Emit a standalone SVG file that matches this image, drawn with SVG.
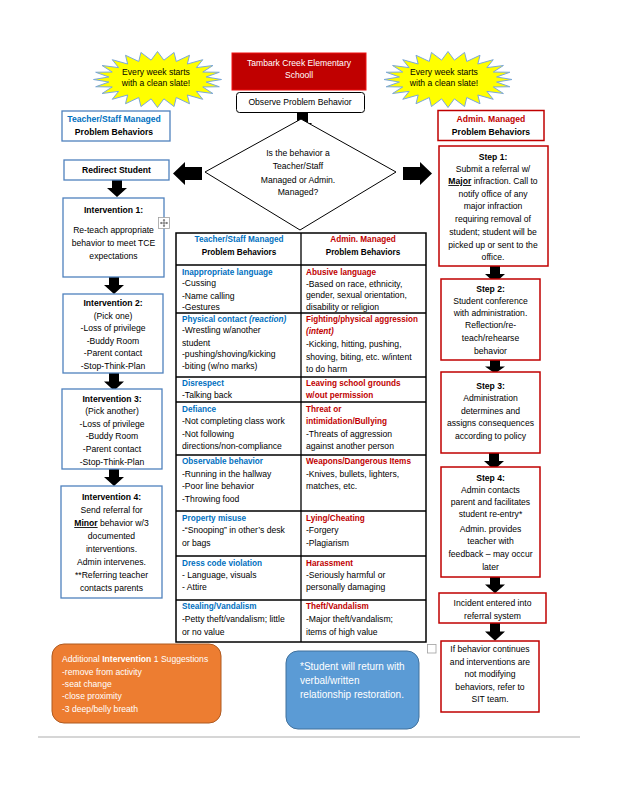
<svg xmlns="http://www.w3.org/2000/svg" xmlns:xlink="http://www.w3.org/1999/xlink" width="618" height="800" viewBox="0 0 618 800">
<defs>
<style>
text{font-family:"Liberation Sans",Arial,sans-serif;font-size:8.6px;fill:#000}
.b{font-weight:bold}
.tb{font-weight:bold;font-size:8.2px}
.c{text-anchor:middle}
.blue{fill:#0070C0}
.red{fill:#C00000}
.w{fill:#fff}
.blk{fill:#000}
.bbox{fill:#fff;stroke:#4F81BD;stroke-width:1.3}
.rbox{fill:#fff;stroke:#C00000;stroke-width:1.5}
.tl{stroke:#000;stroke-width:1.3;fill:none}
.star{fill:#FFFF00;stroke:#7BA7DA;stroke-width:1}
</style>
<polygon id="starshape" points="64,0 48.58,2.54 61.82,7.25 45.27,7.46 55.42,14 38.88,11.87 45.25,19.8 29.83,15.47 32,24.25 18.75,18.02 16.56,27.05 6.39,19.33 0,28 -6.39,19.33 -16.56,27.05 -18.75,18.02 -32,24.25 -29.83,15.47 -45.25,19.8 -38.88,11.87 -55.42,14 -45.27,7.46 -61.82,7.25 -48.58,2.54 -64,0 -48.58,-2.54 -61.82,-7.25 -45.27,-7.46 -55.42,-14 -38.88,-11.87 -45.25,-19.8 -29.83,-15.47 -32,-24.25 -18.75,-18.02 -16.56,-27.05 -6.39,-19.33 0,-28 6.39,-19.33 16.56,-27.05 18.75,-18.02 32,-24.25 29.83,-15.47 45.25,-19.8 38.88,-11.87 55.42,-14 45.27,-7.46 61.82,-7.25 48.58,-2.54"/>
<path id="darr" d="M-5,0 H5 V8 H10 L0,17 L-10,8 H-5 Z"/>
</defs>
<rect width="618" height="800" fill="#fff"/>

<g id="connectors" class="blk">
<path d="M297,113 H308 V123 H312 L302.5,133 L293,123 H297 Z"/>
<path d="M202,167 V180 H185 V185 L173,173.5 L185,162 V167 Z"/>
<path d="M403,167 H420 V162 L432,173.5 L420,185 V180 H403 Z"/>
<use xlink:href="#darr" transform="translate(117,180)"/>
<use xlink:href="#darr" transform="translate(114,277)"/>
<use xlink:href="#darr" transform="translate(114,373) scale(1,1.05)"/>
<use xlink:href="#darr" transform="translate(114,469)"/>
<use xlink:href="#darr" transform="translate(495,266)"/>
<use xlink:href="#darr" transform="translate(495,360) scale(1,0.8)"/>
<use xlink:href="#darr" transform="translate(494,453)"/>
<use xlink:href="#darr" transform="translate(495,577) scale(1,0.95)"/>
<use xlink:href="#darr" transform="translate(495,623) scale(1,1.05)"/>
</g>

<g id="star-left">
<use xlink:href="#starshape" class="star" transform="translate(157.5,79.5)"/>
<text class="c" x="156" y="74.7">Every week starts</text>
<text class="c" x="156" y="86.3">with a clean slate!</text>
</g>
<g id="star-right">
<use xlink:href="#starshape" class="star" transform="translate(448,79.5)"/>
<text class="c" x="444" y="74.7">Every week starts</text>
<text class="c" x="444" y="86.3">with a clean slate!</text>
</g>

<g id="title">
<rect x="232" y="53" width="134" height="37" fill="#C00000" stroke="#F01010" stroke-width="1"/>
<text class="c w" x="299" y="66.3">Tambark Creek Elementary</text>
<text class="c w" x="299" y="77.5">Schooll</text>
</g>

<g id="observe">
<rect x="236.5" y="92.5" width="128" height="20" rx="3" fill="#fff" stroke="#000" stroke-width="1"/>
<text class="c" x="300" y="105">Observe Problem Behavior</text>
</g>

<g id="decision">
<polygon points="301,119 396,172 300,230 205,172" fill="#fff" stroke="#000" stroke-width="1"/>
<text class="c" x="298" y="156">Is the behavior a</text>
<text class="c" x="298" y="169">Teacher/Staff</text>
<text class="c" x="298" y="183">Managed or Admin.</text>
<text class="c" x="298" y="195">Managed?</text>
</g>

<g id="teacher-header">
<rect class="bbox" x="62" y="111" width="108" height="30"/>
<text class="c b blue" x="114" y="122">Teacher/Staff Managed</text>
<text class="c b" x="114" y="135.3">Problem Behaviors</text>
</g>

<g id="admin-header">
<rect class="rbox" x="438" y="110.5" width="106" height="30"/>
<text class="c b red" x="491" y="122">Admin. Managed</text>
<text class="c b" x="491" y="135.3">Problem Behaviors</text>
</g>

<g id="redirect">
<rect class="bbox" x="64" y="160" width="105" height="20"/>
<text class="c b" x="116.5" y="172.5">Redirect Student</text>
</g>

<g id="intervention1">
<rect class="bbox" x="63" y="198" width="101" height="79"/>
<text class="c b" x="113.5" y="213">Intervention 1:</text>
<text class="c" x="113.5" y="233">Re-teach appropriate</text>
<text class="c" x="113.5" y="246">behavior to meet TCE</text>
<text class="c" x="113.5" y="259">expectations</text>
</g>

<g id="move-icon">
<rect x="158.5" y="217.5" width="11" height="11" fill="#fff" stroke="#A0A0A0" stroke-width="0.8"/>
<path d="M164,219.5 V226.5 M160.5,223 H167.5" stroke="#555" stroke-width="0.8" fill="none"/>
<path d="M164,219 l-1.3,1.6 h2.6 Z M164,227 l-1.3,-1.6 h2.6 Z M160,223 l1.6,-1.3 v2.6 Z M168,223 l-1.6,-1.3 v2.6 Z" fill="#555"/>
</g>

<g id="intervention2">
<rect class="bbox" x="63" y="294" width="100" height="79"/>
<text class="c b" x="113" y="306">Intervention 2:</text>
<text class="c" x="113" y="319">(Pick one)</text>
<text class="c" x="113" y="331">-Loss of privilege</text>
<text class="c" x="113" y="344">-Buddy Room</text>
<text class="c" x="113" y="356">-Parent contact</text>
<text class="c" x="113" y="369">-Stop-Think-Plan</text>
</g>

<g id="intervention3">
<rect class="bbox" x="62" y="389" width="100" height="80"/>
<text class="c b" x="112" y="402">Intervention 3:</text>
<text class="c" x="112" y="414">(Pick another)</text>
<text class="c" x="112" y="427">-Loss of privilege</text>
<text class="c" x="112" y="439">-Buddy Room</text>
<text class="c" x="112" y="452">-Parent contact</text>
<text class="c" x="112" y="465">-Stop-Think-Plan</text>
</g>

<g id="intervention4">
<rect class="bbox" x="61" y="486" width="101" height="112"/>
<text class="c b" x="111.5" y="500">Intervention 4:</text>
<text class="c" x="111.5" y="513">Send referral for</text>
<text class="c" x="111.5" y="526"><tspan class="b" text-decoration="underline">Minor</tspan> behavior w/3</text>
<text class="c" x="111.5" y="539">documented</text>
<text class="c" x="111.5" y="552">interventions.</text>
<text class="c" x="111.5" y="565">Admin intervenes.</text>
<text class="c" x="111.5" y="578">**Referring teacher</text>
<text class="c" x="111.5" y="591">contacts parents</text>
</g>

<g id="table">
<rect x="176" y="233" width="250" height="409" fill="#fff" stroke="#000" stroke-width="1.5"/>
<path class="tl" d="M301,233 V642 M176,265 H426 M176,313 H426 M176,377 H426 M176,402 H426 M176,455 H426 M176,511 H426 M176,556 H426 M176,600 H426"/>
<text class="c tb blue" x="239" y="242">Teacher/Staff Managed</text>
<text class="c tb" x="239" y="255">Problem Behaviors</text>
<text class="c tb red" x="363" y="242">Admin. Managed</text>
<text class="c tb" x="363" y="255">Problem Behaviors</text>

<text class="tb blue" x="182" y="275">Inappropriate language</text>
<text x="182" y="286">-Cussing</text>
<text x="182" y="299">-Name calling</text>
<text x="182" y="310">-Gestures</text>
<text class="tb red" x="306" y="275">Abusive language</text>
<text x="306" y="287">-Based on race, ethnicity,</text>
<text x="306" y="298">gender, sexual orientation,</text>
<text x="306" y="310">disability or religion</text>

<text class="tb blue" x="182" y="322">Physical contact <tspan font-style="italic">(reaction)</tspan></text>
<text x="182" y="333">-Wrestling w/another</text>
<text x="182" y="346">student</text>
<text x="182" y="357">-pushing/shoving/kicking</text>
<text x="182" y="369">-biting (w/no marks)</text>
<text class="tb red" x="306" y="322" textLength="112" lengthAdjust="spacingAndGlyphs">Fighting/physical aggression</text>
<text class="tb red" x="306" y="334" font-style="italic">(intent)</text>
<text x="306" y="347">-Kicking, hitting, pushing,</text>
<text x="306" y="359.5">shoving, biting, etc. w/intent</text>
<text x="306" y="372">to do harm</text>

<text class="tb blue" x="182" y="386">Disrespect</text>
<text x="182" y="398">-Talking back</text>
<text class="tb red" x="306" y="386">Leaving school grounds</text>
<text class="tb red" x="306" y="398">w/out permission</text>

<text class="tb blue" x="182" y="412">Defiance</text>
<text x="182" y="424">-Not completing class work</text>
<text x="182" y="437">-Not following</text>
<text x="182" y="449">directions/non-compliance</text>
<text class="tb red" x="306" y="412">Threat or</text>
<text class="tb red" x="306" y="424">intimidation/Bullying</text>
<text x="306" y="437">-Threats of aggression</text>
<text x="306" y="449">against another person</text>

<text class="tb blue" x="182" y="464">Observable behavior</text>
<text x="182" y="477">-Running in the hallway</text>
<text x="182" y="489">-Poor line behavior</text>
<text x="182" y="502">-Throwing food</text>
<text class="tb red" x="306" y="464">Weapons/Dangerous Items</text>
<text x="306" y="477">-Knives, bullets, lighters,</text>
<text x="306" y="489">matches, etc.</text>

<text class="tb blue" x="182" y="521">Property misuse</text>
<text x="182" y="533">-“Snooping” in other’s desk</text>
<text x="182" y="546">or bags</text>
<text class="tb red" x="306" y="521">Lying/Cheating</text>
<text x="306" y="533">-Forgery</text>
<text x="306" y="546">-Plagiarism</text>

<text class="tb blue" x="182" y="565.5">Dress code violation</text>
<text x="182" y="578">- Language, visuals</text>
<text x="182" y="590">- Attire</text>
<text class="tb red" x="306" y="565.5">Harassment</text>
<text x="306" y="578">-Seriously harmful or</text>
<text x="306" y="590">personally damaging</text>

<text class="tb blue" x="182" y="609">Stealing/Vandalism</text>
<text x="182" y="622">-Petty theft/vandalism; little</text>
<text x="182" y="634.5">or no value</text>
<text class="tb red" x="306" y="609">Theft/Vandalism</text>
<text x="306" y="622">-Major theft/vandalism;</text>
<text x="306" y="634.5">items of high value</text>
</g>

<g id="step1">
<rect class="rbox" x="439" y="146" width="109" height="120"/>
<text class="c b" x="493" y="160">Step 1:</text>
<text class="c" x="493" y="171.5">Submit a referral w/</text>
<text class="c" x="493" y="184"><tspan class="b" text-decoration="underline">Major</tspan> infraction. Call to</text>
<text class="c" x="493" y="196.5">notify office of any</text>
<text class="c" x="493" y="209">major infraction</text>
<text class="c" x="493" y="221.5">requiring removal of</text>
<text class="c" x="493" y="235">student; student will be</text>
<text class="c" x="493" y="248">picked up or sent to the</text>
<text class="c" x="493" y="260">office.</text>
</g>

<g id="step2">
<rect class="rbox" x="441" y="279" width="99" height="81"/>
<text class="c b" x="490.5" y="292">Step 2:</text>
<text class="c" x="490.5" y="304">Student conference</text>
<text class="c" x="490.5" y="316">with administration.</text>
<text class="c" x="490.5" y="328">Reflection/re-</text>
<text class="c" x="490.5" y="341">teach/rehearse</text>
<text class="c" x="490.5" y="354">behavior</text>
</g>

<g id="step3">
<rect class="rbox" x="441" y="372" width="99" height="81"/>
<text class="c b" x="490.5" y="389">Step 3:</text>
<text class="c" x="490.5" y="401">Administration</text>
<text class="c" x="490.5" y="414">determines and</text>
<text class="c" x="490.5" y="426">assigns consequences</text>
<text class="c" x="490.5" y="439">according to policy</text>
</g>

<g id="step4">
<rect class="rbox" x="441" y="467" width="99" height="110"/>
<text class="c b" x="490.5" y="481">Step 4:</text>
<text class="c" x="490.5" y="493">Admin contacts</text>
<text class="c" x="490.5" y="505">parent and facilitates</text>
<text class="c" x="490.5" y="517">student re-entry*</text>
<text class="c" x="490.5" y="532">Admin. provides</text>
<text class="c" x="490.5" y="544">teacher with</text>
<text class="c" x="490.5" y="557">feedback – may occur</text>
<text class="c" x="490.5" y="570">later</text>
</g>

<g id="incident">
<rect class="rbox" x="439" y="593" width="107" height="30"/>
<text class="c" x="492.5" y="606">Incident entered into</text>
<text class="c" x="492.5" y="619">referral system</text>
</g>

<g id="sit-referral">
<rect class="rbox" x="441" y="641" width="98" height="71"/>
<text class="c" x="490" y="652">If behavior continues</text>
<text class="c" x="490" y="665">and interventions are</text>
<text class="c" x="490" y="677">not modifying</text>
<text class="c" x="490" y="690">behaviors, refer to</text>
<text class="c" x="490" y="702">SIT team.</text>
</g>

<g id="small-box">
<rect x="427.5" y="644.5" width="8.5" height="8.5" fill="#fff" stroke="#A0A0A0" stroke-width="0.8"/>
</g>

<g id="suggestions">
<rect x="52" y="644" width="169" height="79" rx="12" fill="#ED7D31" stroke="#AE5A21" stroke-width="1"/>
<text class="w" x="62" y="662">Additional <tspan class="b">Intervention</tspan> 1 Suggestions</text>
<text class="w" x="62" y="674.7">-remove from activity</text>
<text class="w" x="62" y="687">-seat change</text>
<text class="w" x="62" y="699">-close proximity</text>
<text class="w" x="62" y="712">-3 deep/belly breath</text>
</g>

<g id="restoration-note">
<rect x="286" y="651" width="133" height="78" rx="12" fill="#5B9BD5" stroke="#41719C" stroke-width="1"/>
<text class="w" x="300" y="669.5" style="font-size:10px">*Student will return with</text>
<text class="w" x="300" y="684" style="font-size:10px">verbal/written</text>
<text class="w" x="300" y="697.5" style="font-size:10px">relationship restoration.</text>
</g>

<line x1="38" y1="737" x2="580" y2="737" stroke="#C8C8C8" stroke-width="1.5"/>
</svg>
